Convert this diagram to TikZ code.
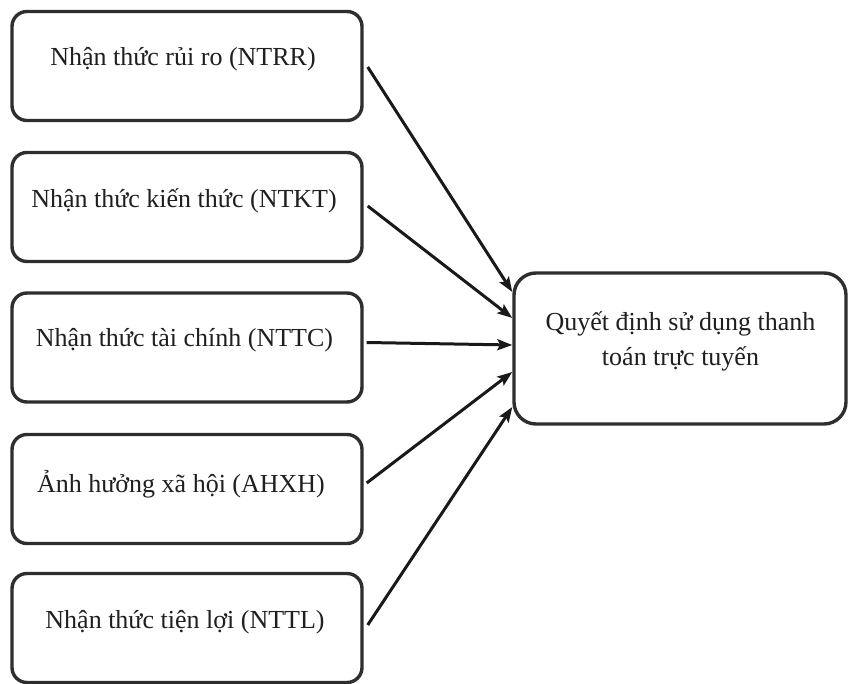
\documentclass[tikz,border=0pt]{standalone}
\usepackage{fontspec}
\setmainfont{Liberation Serif}
\usetikzlibrary{arrows.meta}
\begin{document}
\begin{tikzpicture}[x=1pt,y=-1pt,
  box/.style={draw=black!82, line width=3.4pt, rounded corners=15pt, fill=white,
    minimum width=350pt, minimum height=109pt, inner sep=0pt},
  rbox/.style={draw=black!82, line width=3.4pt, rounded corners=22pt, fill=white,
    minimum width=332pt, minimum height=151pt, inner sep=0pt},
  lbl/.style={anchor=base, font=\fontsize{26}{35}\selectfont, text=black!88},
  rlbl/.style={align=center, font=\fontsize{26}{35}\selectfont, text=black!88},
  arr/.style={draw=black!90, line width=3pt, -{Stealth[length=15pt,width=11pt,inset=3pt]}}]
\useasboundingbox (0,0) rectangle (849,684);
% left boxes
\node[box] (b1) at (187,66) {};
\node[box] (b2) at (187,207) {};
\node[box] (b3) at (187,347.5) {};
\node[box] (b4) at (187,489) {};
\node[box] (b5) at (187,628) {};
\node[lbl] (t1) at (183,66) {Nhận thức rủi ro (NTRR)};
\node[lbl] (t2) at (184,208) {Nhận thức kiến thức (NTKT)};
\node[lbl] (t3) at (184.5,347) {Nhận thức tài chính (NTTC)};
\node[lbl] (t4) at (181,492) {Ảnh hưởng xã hội (AHXH)};
\node[lbl] (t5) at (185,628) {Nhận thức tiện lợi (NTTL)};
% right box
\node[rbox] (r) at (680,348.5) {};
\node[rlbl] (rt) at (680.5,341) {Quyết định sử dụng thanh\\toán trực tuyến};
% arrows
\draw[arr] ([xshift=4pt,yshift=-1pt]b1.east) -- ([yshift=56.5pt]r.west);
\draw[arr] ([xshift=4pt,yshift=1pt]b2.east) -- ([yshift=30.5pt]r.west);
\draw[arr] ([xshift=3pt,yshift=5pt]b3.east) -- ([yshift=3.5pt]r.west);
\draw[arr] ([xshift=3pt,yshift=6pt]b4.east) -- ([yshift=-23.5pt]r.west);
\draw[arr] ([xshift=4pt,yshift=3pt]b5.east) -- ([yshift=-58.5pt]r.west);
\end{tikzpicture}
\end{document}
